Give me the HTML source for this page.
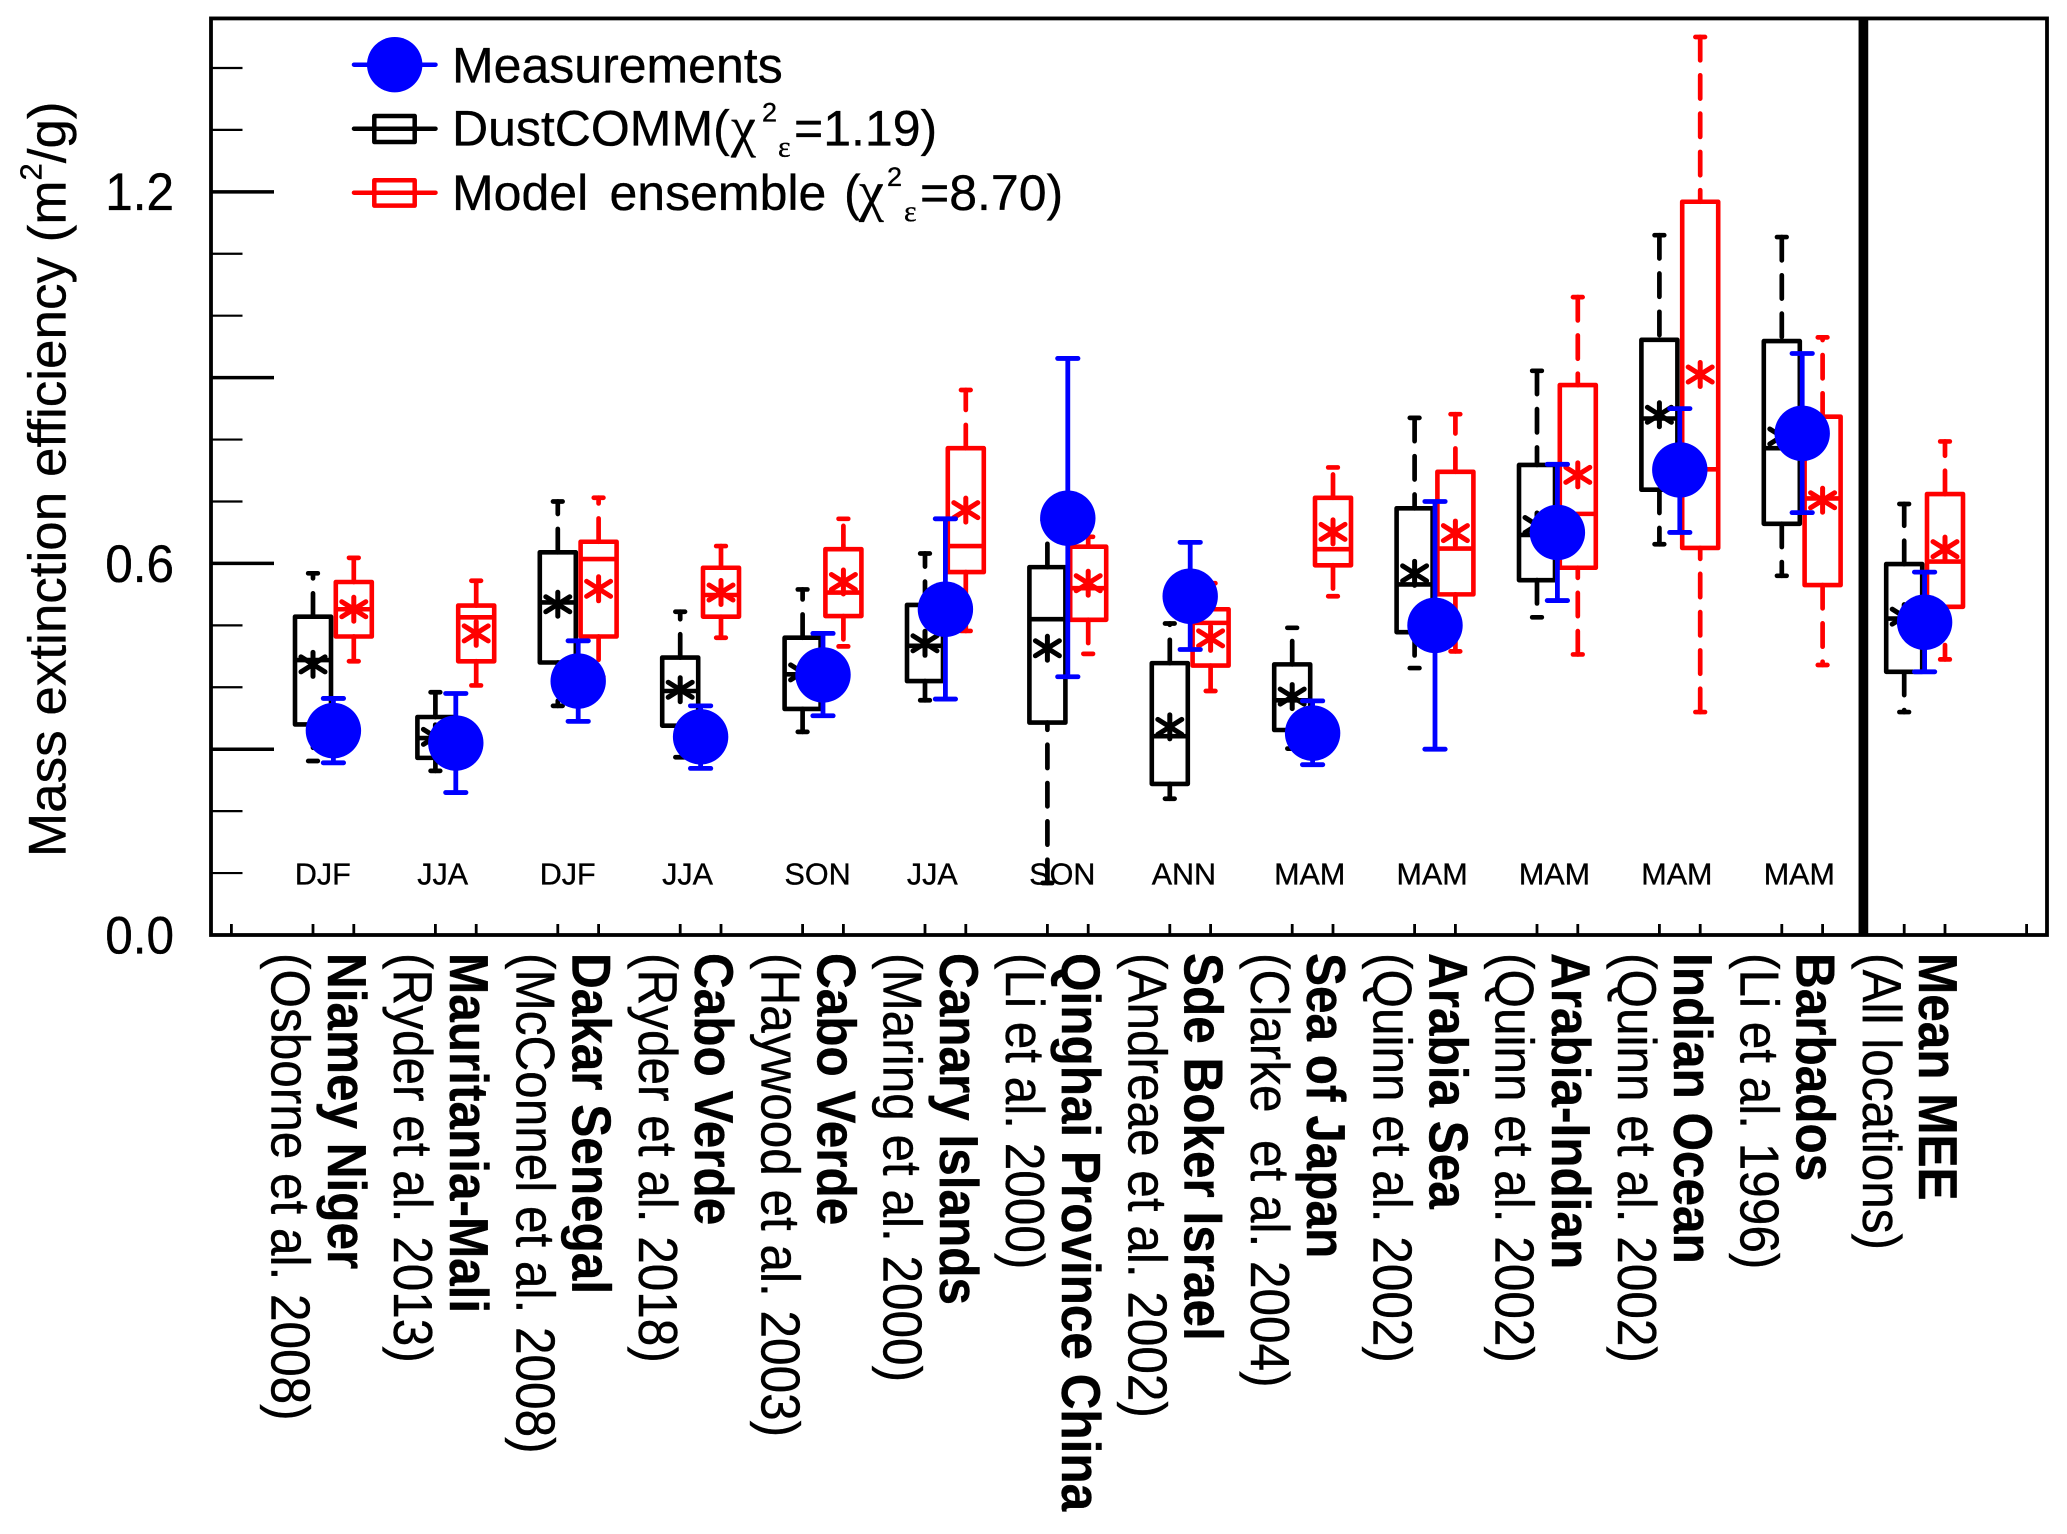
<!DOCTYPE html>
<html lang="en">
<head>
<meta charset="utf-8">
<title>Mass extinction efficiency chart</title>
<style>
html,body{margin:0;padding:0;background:#fff;}
svg{display:block;}
text{font-family:"Liberation Sans",sans-serif;fill:#000;stroke:#000;stroke-width:.35px;}
</style>
</head>
<body>
<svg id="chart" xmlns="http://www.w3.org/2000/svg" width="2067" height="1534" viewBox="0 0 2067 1534">
  <rect x="0" y="0" width="2067" height="1534" fill="#fff"/>
  <g id="axes"></g>
  <g id="marks"></g>
  <text transform="translate(65.7,857) rotate(-90)" font-size="53">Mass extinction efficiency (m<tspan font-size="31" dy="-24">2</tspan><tspan dy="24">/g)</tspan></text>
  <g>
    <g>
      <line x1="354" x2="435.5" y1="64.7" y2="64.7" stroke="#00f" stroke-width="4.5" stroke-linecap="round"/>
      <circle cx="394.7" cy="64.7" r="27.7" fill="#00f"/>
      <text x="452" y="82.3" font-size="50">Measurements</text>
    </g>
    <g>
      <line x1="354" x2="435.5" y1="128.7" y2="128.7" stroke="#000" stroke-width="4.5" stroke-linecap="round"/>
      <rect x="374.3" y="116" width="40.4" height="26" fill="none" stroke="#000" stroke-width="4.5" stroke-linejoin="round"/>
      <text y="145.7" font-size="50"><tspan x="452">DustCOMM(</tspan><tspan x="731" font-size="56" font-family="Liberation Serif">χ</tspan><tspan x="762" y="121.7" font-size="27">2</tspan><tspan x="778" y="156.7" font-size="30" font-family="Liberation Serif">ε</tspan><tspan x="794" y="145.7">=1.19)</tspan></text>
    </g>
    <g>
      <line x1="354" x2="435.5" y1="192.7" y2="192.7" stroke="#f00" stroke-width="4.5" stroke-linecap="round"/>
      <rect x="374.3" y="180.2" width="40.4" height="25.4" fill="none" stroke="#f00" stroke-width="4.5" stroke-linejoin="round"/>
      <text y="210" font-size="50"><tspan x="452">Model</tspan><tspan x="609.5">ensemble</tspan><tspan x="844">(</tspan><tspan x="859" font-size="56" font-family="Liberation Serif">χ</tspan><tspan x="887" y="186" font-size="27">2</tspan><tspan x="904" y="221" font-size="30" font-family="Liberation Serif">ε</tspan><tspan x="920" y="210">=8.70)</tspan></text>
    </g>
  </g>
</svg>
<script>
const categories = ["Niamey Niger","Mauritania-Mali","Dakar Senegal","Cabo Verde","Cabo Verde","Canary Islands","Qinghai Province China","Sde Boker Israel","Sea of Japan","Arabia Sea","Arabia-Indian","Indian Ocean","Barbados","Mean MEE"];
const references = ["(Osborne et al. 2008)","(Ryder et al. 2013)","(McConnel et al. 2008)","(Ryder et al. 2018)","(Haywood et al. 2003)","(Maring et al. 2000)","(Li et al. 2000)","(Andreae et al. 2002)","(Clarke\u00a0 et al. 2004)","(Quinn et al. 2002)","(Quinn et al. 2002)","(Quinn et al. 2002)","(Li et al. 1996)","(All locations)"];
const seasons = ["DJF","JJA","DJF","JJA","SON","JJA","SON","ANN","MAM","MAM","MAM","MAM","MAM"];
const yTickValues = [0.1,0.2,0.3,0.4,0.5,0.6,0.7,0.8,0.9,1.0,1.1,1.2,1.3,1.4];
const yMajorTicks = [0.3,0.6,0.9,1.2];
const yTickLabels = ["0.0","0.6","1.2"];

const blackTop = [.584,.392,.700,.522,.558,.616,.670,.503,.496,.835,.911,1.130,1.127,.696];
const blackQ3 = [.514,.352,.618,.448,.480,.533,.594,.439,.437,.689,.759,.961,.959,.599];
const blackMedian = [.444,.318,.537,.394,.421,.467,.510,.321,.379,.566,.646,.834,.786,.511];
const blackQ1 = [.340,.286,.440,.338,.365,.410,.343,.244,.331,.489,.573,.719,.664,.425];
const blackLow = [.281,.265,.370,.287,.328,.379,.084,.220,.301,.431,.513,.631,.580,.360];
const blackMean = [.437,.320,.534,.396,.424,.471,.463,.336,.385,.584,.662,.840,.805,.514];

const redTop = [.609,.572,.706,.628,.672,.880,.643,.568,.755,.841,1.030,1.450,.965,.797];
const redQ3 = [.570,.532,.635,.593,.623,.786,.627,.526,.706,.748,.888,1.184,.837,.712];
const redMedian = [.526,.513,.607,.549,.553,.628,.560,.504,.623,.624,.680,.752,.705,.603];
const redQ1 = [.482,.442,.482,.514,.515,.586,.509,.435,.597,.550,.593,.625,.565,.530];
const redLow = [.442,.403,.417,.480,.466,.491,.454,.394,.547,.458,.453,.360,.436,.445];
const redMean = [.526,.487,.559,.553,.570,.686,.568,.479,.651,.649,.743,.905,.702,.623];

const blueTop = [.382,.390,.475,.370,.487,.672,.931,.634,.378,.700,.760,.850,.939,.586];
const blueCenter = [.330,.310,.410,.320,.420,.526,.673,.547,.326,.500,.650,.751,.810,.505];
const blueLow = [.278,.230,.345,.269,.354,.381,.417,.461,.275,.300,.540,.650,.682,.425];

const NS = "http://www.w3.org/2000/svg";
const Y0 = 935, Y_PER_UNIT = 619.3, X0 = 231.4, X_PER_UNIT = 40.8;
function yScale(v){ return Y0 - Y_PER_UNIT * v; }
function xScale(p){ return X0 + X_PER_UNIT * p; }
function blackPos(i){ return 2 + 3 * i; }
function redPos(i){ return 3 + 3 * i; }
function bluePos(i){ return 2.5 + 3 * i; }
function mk(tag, attrs, parent){
  const el = document.createElementNS(NS, tag);
  for (const k in attrs) el.setAttribute(k, attrs[k]);
  parent.appendChild(el);
  return el;
}
const axes = document.getElementById("axes");
const marks = document.getElementById("marks");
const LEFT = xScale(-0.5), RIGHT = xScale(44.5), TOP = yScale(1.48);

/* frame */
const frame = mk("rect", {x:LEFT, y:TOP, width:RIGHT-LEFT, height:Y0-TOP, fill:"none", stroke:"#000", "stroke-width":3.8}, axes);


const divider = mk("line", {x1:xScale(40), x2:xScale(40), y1:TOP, y2:Y0, stroke:"#000", "stroke-width":9.7}, axes);



/* y ticks */
yTickValues.forEach(function(v){
  const major = yMajorTicks.some(function(m){ return Math.abs(m - v) < 1e-6; });
  const t = mk("line", {x1:LEFT, x2:LEFT + (major ? 63 : 31.5), y1:yScale(v), y2:yScale(v), stroke:"#000", "stroke-width":major ? 3.5 : 2.2}, axes);
  
  
});
yTickLabels.forEach(function(s){
  const t = mk("text", {transform:"translate(174," + (yScale(parseFloat(s)) + 18.4) + ") scale(1,1.07)", "font-size":49.5, "text-anchor":"end"}, axes);
  t.textContent = s;
  
  
});

/* x ticks */
function xTick(p){
  const t = mk("line", {x1:xScale(p), x2:xScale(p), y1:Y0, y2:Y0 - 11, stroke:"#000", "stroke-width":2.8}, axes);
  
  
}
xTick(0);
xTick(44);
categories.forEach(function(c, i){
  xTick(blackPos(i));
  xTick(redPos(i));
});

/* category and reference labels */
categories.forEach(function(c, i){
  const b = mk("text", {transform:"translate(" + (xScale(blackPos(i)) + 14.8) + ",953) rotate(90) scale(1,1.1)", "font-size":49.5, "font-weight":"bold"}, axes);
  b.textContent = c;
  
  
  const r = mk("text", {transform:"translate(" + (xScale(blackPos(i)) - 41.3) + ",953) rotate(90) scale(1,1.1)", "font-size":49.5}, axes);
  r.textContent = references[i];
  
  
});

/* season labels */
seasons.forEach(function(s, i){
  const t = mk("text", {x:xScale(bluePos(i)) - 38.5, y:884.3, "font-size":30.5}, axes);
  t.textContent = s;
  
  
});

/* box series */
const BOX_HALF = 18, CAP_HALF = 4.8;
function whisker(x, from, to, color, parent, name){
  const yFrom = yScale(from), yTo = yScale(to);
  const long = Math.abs(yFrom - yTo) > 80;
  const w = mk("line", {x1:x, x2:x, y1:long ? yTo : yFrom, y2:long ? yFrom : yTo, stroke:color, "stroke-width":4.7, "stroke-dasharray":"23.3 15", "stroke-linecap":"round"}, parent);
  
  
  const c = mk("line", {x1:x - CAP_HALF, x2:x + CAP_HALF, y1:yTo, y2:yTo, stroke:color, "stroke-width":4.7, "stroke-linecap":"round"}, parent);
  
  
}
function star(x, y, color, parent, name){
  const g = mk("g", {stroke:color, "stroke-width":5, "stroke-linecap":"round"}, parent);
  
  
  mk("line", {x1:x, x2:x, y1:y - 12, y2:y + 12}, g);
  mk("line", {x1:x - 12, x2:x + 12, y1:y - 7.5, y2:y + 7.5}, g);
  mk("line", {x1:x - 12, x2:x + 12, y1:y + 7.5, y2:y - 7.5}, g);
}
function drawBoxSeries(name, color, posFn, top, q3, med, q1, low, mean){
  const series = mk("g", {}, marks);
  
  
  categories.forEach(function(c, i){
    const x = xScale(posFn(i));
    const g = mk("g", {}, series);
    
    
    whisker(x, q3[i], top[i], color, g, name + '-upper');
    whisker(x, q1[i], low[i], color, g, name + '-lower');
    const box = mk("rect", {x:x - BOX_HALF, y:yScale(q3[i]), width:BOX_HALF * 2, height:yScale(q1[i]) - yScale(q3[i]), fill:"#fff", "fill-opacity":0, stroke:color, "stroke-width":4.6, "stroke-linejoin":"round"}, g);
    
    
    const m = mk("line", {x1:x - BOX_HALF, x2:x + BOX_HALF, y1:yScale(med[i]), y2:yScale(med[i]), stroke:color, "stroke-width":4.6}, g);
    
    
    star(x, yScale(mean[i]), color, g, name);
  });
}
drawBoxSeries("dustcomm", "#000", blackPos, blackTop, blackQ3, blackMedian, blackQ1, blackLow, blackMean);
drawBoxSeries("ensemble", "#f00", redPos, redTop, redQ3, redMedian, redQ1, redLow, redMean);

/* measurements */
const blueSeries = mk("g", {stroke:"#00f", fill:"#00f"}, marks);


categories.forEach(function(c, i){
  const x = xScale(bluePos(i));
  const bar = mk("line", {x1:x, x2:x, y1:yScale(blueTop[i]), y2:yScale(blueLow[i]), "stroke-width":4.8}, blueSeries);
  
  
  [blueTop[i], blueLow[i]].forEach(function(v){
    const cap = mk("line", {x1:x - 10.2, x2:x + 10.2, y1:yScale(v), y2:yScale(v), "stroke-width":4.8, "stroke-linecap":"round"}, blueSeries);
    
    
  });
  const pt = mk("circle", {cx:x, cy:yScale(blueCenter[i]), r:27.7, stroke:"none"}, blueSeries);
  
  
});
</script>
</body>
</html>
